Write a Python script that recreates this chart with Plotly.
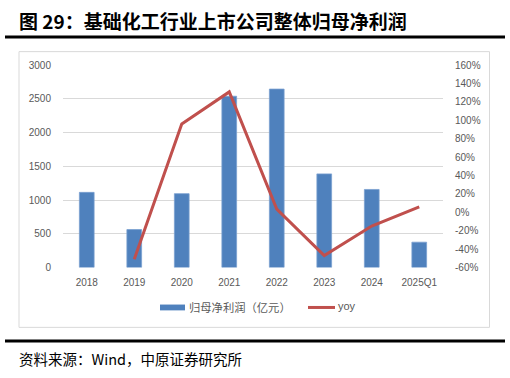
import plotly.graph_objects as go

categories = ["2018", "2019", "2020", "2021", "2022", "2023", "2024", "2025Q1"]
profit = [1114, 562, 1095, 2540, 2646, 1388, 1157, 375]
yoy = [None, -51, 96, 131, 3.4, -47, -15, 6]
left_ticks = [0, 500, 1000, 1500, 2000, 2500, 3000]
right_ticks = [-60, -40, -20, 0, 20, 40, 60, 80, 100, 120, 140, 160]
right_labels = [f"{v}%" for v in right_ticks]

W, H = 510, 378
def px(x):
    return x / W
def py(y):
    return 1 - y / H

tick_font = dict(family="Liberation Sans, Arial, sans-serif", size=10, color="#595959")
cjk = "Noto Sans CJK SC, sans-serif"

fig = go.Figure()
fig.add_trace(go.Bar(
    x=categories, y=profit, name="归母净利润（亿元）",
    marker=dict(color="#4F81BD", line=dict(color="#7A9FD0", width=0.8)),
    width=0.31, yaxis="y", showlegend=False,
))
fig.add_trace(go.Scatter(
    x=categories, y=yoy, name="yoy", mode="lines",
    line=dict(color="#C0504D", width=3), yaxis="y2", showlegend=False,
    connectgaps=False,
))

fig.update_layout(
    width=W, height=H,
    margin=dict(l=0, r=0, t=0, b=0),
    paper_bgcolor="white", plot_bgcolor="white",
    xaxis=dict(
        domain=[px(63), px(443)], type="category",
        tickfont=tick_font, showgrid=False, showline=False,
        ticks="outside", ticklen=6, tickcolor="rgba(0,0,0,0)",
        anchor="y",
    ),
    yaxis=dict(
        domain=[py(269.3), py(61)], range=[0, 3000],
        tickvals=left_ticks, tickfont=tick_font,
        showgrid=True, gridcolor="#D9D9D9", gridwidth=1,
        zeroline=False, showline=False,
        ticks="outside", ticklen=9, tickcolor="rgba(0,0,0,0)",
    ),
    yaxis2=dict(
        overlaying="y", side="right", range=[-60, 160],
        tickvals=right_ticks, ticktext=right_labels, tickfont=tick_font,
        showgrid=False, zeroline=False, showline=False,
        ticks="outside", ticklen=9, tickcolor="rgba(0,0,0,0)",
        anchor="x",
    ),
    showlegend=False,
)

shapes = [
    dict(type="rect", xref="paper", yref="paper", x0=px(19), x1=px(489.5),
         y0=py(331), y1=py(47), line=dict(color="#D9D9D9", width=1)),
    dict(type="line", xref="paper", yref="paper", x0=px(5), x1=px(505),
         y0=py(32), y1=py(32), line=dict(color="black", width=3)),
    dict(type="line", xref="paper", yref="paper", x0=px(5), x1=px(505),
         y0=py(345), y1=py(345), line=dict(color="black", width=3)),
    dict(type="rect", xref="paper", yref="paper", x0=px(160), x1=px(185),
         y0=py(313.5), y1=py(307.5), fillcolor="#4F81BD", line=dict(width=0)),
    dict(type="line", xref="paper", yref="paper", x0=px(308), x1=px(335),
         y0=py(310.5), y1=py(310.5), line=dict(color="#C0504D", width=3)),
]
fig.update_layout(shapes=shapes)

annotations = [
    dict(text="<b>图 29：基础化工行业上市公司整体归母净利润</b>", xref="paper", yref="paper",
         x=px(17), y=py(15), xanchor="left", yanchor="middle", showarrow=False,
         font=dict(family=cjk, size=19, color="black")),
    dict(text="资料来源：Wind，中原证券研究所", xref="paper", yref="paper",
         x=px(17), y=py(363), xanchor="left", yanchor="middle", showarrow=False,
         font=dict(family=cjk, size=14.5, color="black")),
    dict(text="归母净利润（亿元）", xref="paper", yref="paper",
         x=px(187), y=py(310.5), xanchor="left", yanchor="middle", showarrow=False,
         font=dict(family=cjk, size=11.3, color="#595959")),
    dict(text="yoy", xref="paper", yref="paper",
         x=px(336), y=py(309.5), xanchor="left", yanchor="middle", showarrow=False,
         font=dict(family="Liberation Sans, Arial, sans-serif", size=11, color="#595959")),
]
fig.update_layout(annotations=annotations)

fig.write_html(
    "out.html",
    config={"displayModeBar": False},
    post_script="document.body.style.margin='0';document.body.style.overflow='hidden';",
)
